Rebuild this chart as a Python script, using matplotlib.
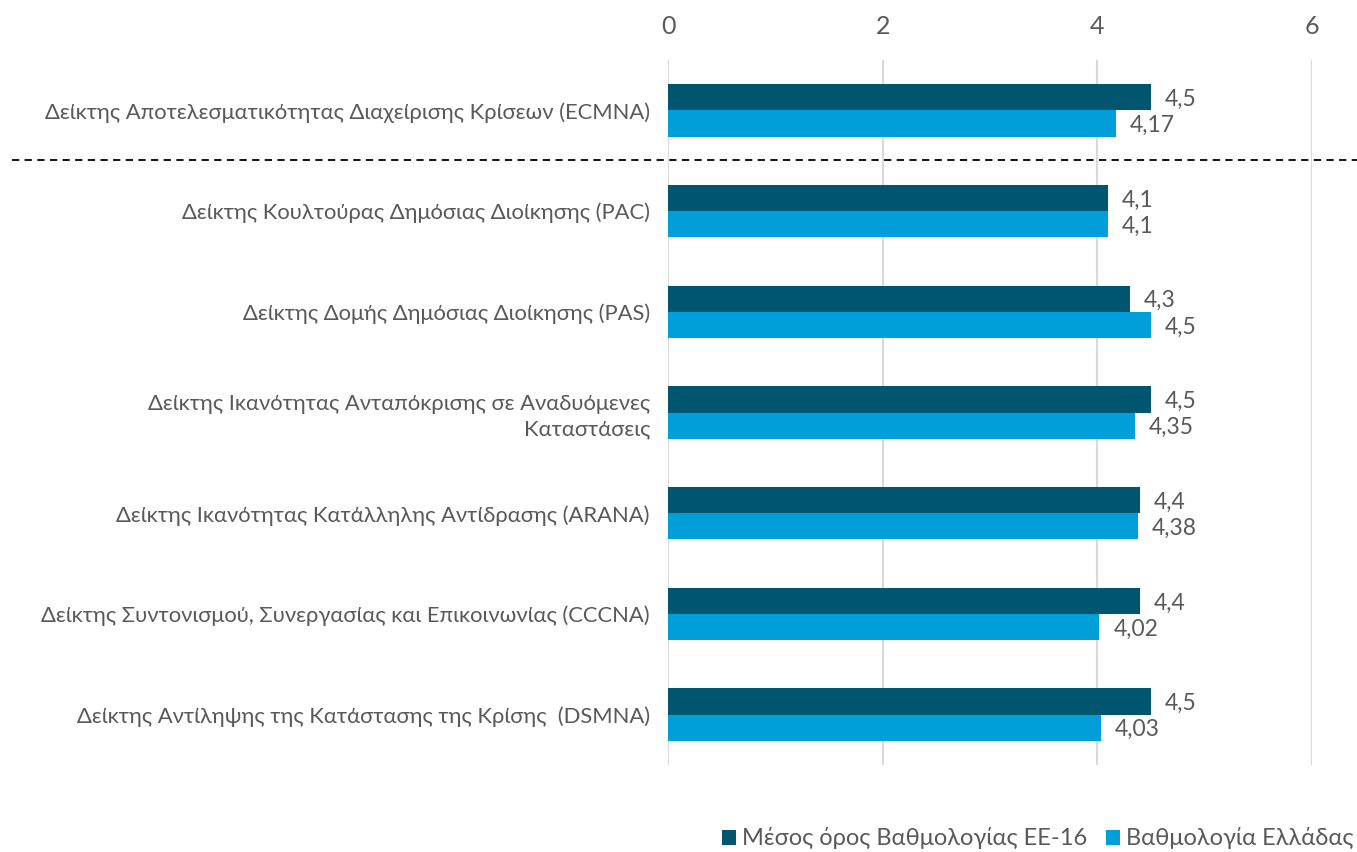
import matplotlib.pyplot as plt
from matplotlib.lines import Line2D
import numpy as np

plt.rcParams['font.family'] = ['Lato', 'DejaVu Sans']

categories = [
    'Δείκτης Αποτελεσματικότητας Διαχείρισης Κρίσεων (ECMNA)',
    'Δείκτης Κουλτούρας Δημόσιας Διοίκησης (PAC)',
    'Δείκτης Δομής Δημόσιας Διοίκησης (PAS)',
    'Δείκτης Ικανότητας Ανταπόκρισης σε Αναδυόμενες\nΚαταστάσεις',
    'Δείκτης Ικανότητας Κατάλληλης Αντίδρασης (ARANA)',
    'Δείκτης Συντονισμού, Συνεργασίας και Επικοινωνίας (CCCNA)',
    'Δείκτης Αντίληψης της Κατάστασης της Κρίσης  (DSMNA)',
]
eu16 = [4.5, 4.1, 4.3, 4.5, 4.4, 4.4, 4.5]
greece = [4.17, 4.1, 4.5, 4.35, 4.38, 4.02, 4.03]
series_names = ['Μέσος όρος Βαθμολογίας ΕΕ-16', 'Βαθμολογία Ελλάδας']
xticks = [0, 2, 4, 6]

dark = '#00566E'
light = '#009FDA'
txt = '#595959'

fig = plt.figure(figsize=(13.57, 8.52), dpi=100)
ax = fig.add_axes([668 / 1357, 1 - 765 / 852, 644 / 1357, 705 / 852])

y = np.arange(len(categories))
h = 0.26
ax.barh(y - h / 2, eu16, height=h, color=dark, label=series_names[0], zorder=2)
ax.barh(y + h / 2, greece, height=h, color=light, label=series_names[1], zorder=2)

def fmt(v):
    return ('%g' % v).replace('.', ',')

for i in range(len(categories)):
    ax.text(eu16[i] + 0.13, y[i] - h / 2 + 0.02, fmt(eu16[i]), va='center', ha='left',
            fontsize=16.5, color=txt)
    ax.text(greece[i] + 0.13, y[i] + h / 2 + 0.02, fmt(greece[i]), va='center', ha='left',
            fontsize=16.5, color=txt)

ax.set_xlim(0, 6)
ax.set_ylim(6.5, -0.5)
ax.set_yticks(y)
ax.set_yticklabels(categories, fontsize=15.8, color=txt, linespacing=1.3)
ax.set_xticks(xticks)
ax.set_xticklabels([str(t) for t in xticks], fontsize=18, color=txt)
ax.xaxis.tick_top()
ax.tick_params(axis='x', length=0, pad=16)
ax.tick_params(axis='y', length=0, pad=13)
for s in ax.spines.values():
    s.set_visible(False)
ax.grid(axis='x', color='#d9d9d9', linewidth=1.5, zorder=0)
ax.set_axisbelow(True)

# dashed separator under the first index
sep = Line2D([12 / 1357, 1.0], [1 - 160 / 852, 1 - 160 / 852], transform=fig.transFigure,
             color='black', linestyle=(0, (4, 3)), linewidth=1.3)
fig.add_artist(sep)

fig.legend(loc='lower right', bbox_to_anchor=(1.013, -0.022), ncol=2, frameon=False,
           fontsize=17, handlelength=0.6, handleheight=0.6, handletextpad=0.25,
           columnspacing=0.8, labelcolor=txt)

fig.savefig('out.png', dpi=100)
